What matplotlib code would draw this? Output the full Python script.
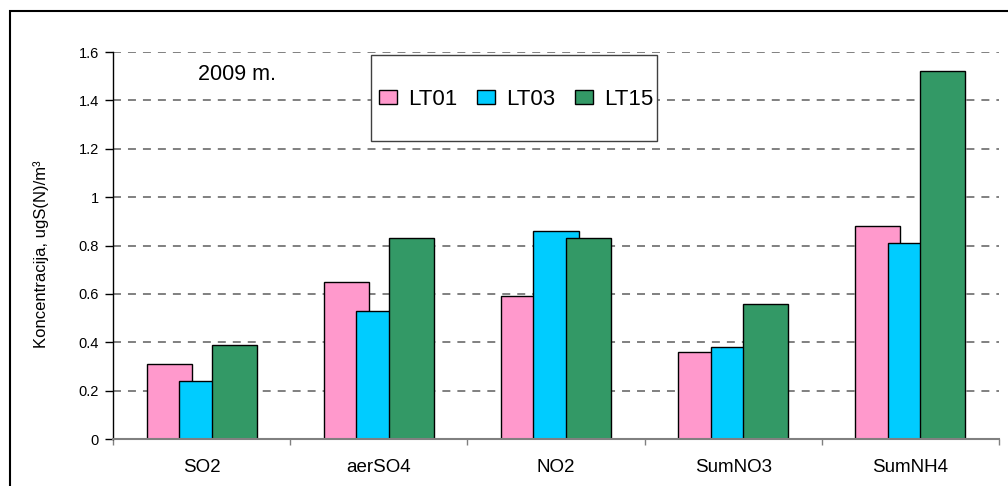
import matplotlib
matplotlib.use("Agg")
import matplotlib.pyplot as plt
import numpy as np
from matplotlib.patches import Rectangle, Patch

plt.rcParams['font.family'] = ['Liberation Sans', 'DejaVu Sans']

categories = ["SO2", "aerSO4", "NO2", "SumNO3", "SumNH4"]
series_names = ["LT01", "LT03", "LT15"]
lt01 = [0.31, 0.65, 0.59, 0.36, 0.88]
lt03 = [0.24, 0.53, 0.86, 0.38, 0.81]
lt15 = [0.39, 0.83, 0.83, 0.56, 1.52]
colors = ["#FF99CC", "#00CCFF", "#339966"]
y_ticks = [0, 0.2, 0.4, 0.6, 0.8, 1, 1.2, 1.4, 1.6]
y_tick_labels = ["0", "0.2", "0.4", "0.6", "0.8", "1", "1.2", "1.4", "1.6"]

W, H = 1008, 486
fig = plt.figure(figsize=(W / 100, H / 100), dpi=100)
fig.patch.set_facecolor("white")

ax = fig.add_axes([113 / W, 1 - 439 / H, 886 / W, (439 - 52) / H])
ax.set_xlim(-0.5, 4.5)
ax.set_ylim(0, 1.6)

x = np.arange(len(categories))
offsets = [-0.183, 0.0, 0.183]
bar_w = 0.254
for vals, off, col, name in zip([lt01, lt03, lt15], offsets, colors, series_names):
    ax.bar(x + off, vals, width=bar_w, color=col, edgecolor="black",
           linewidth=1.0, label=name, zorder=3)

# dashed horizontal gridlines
for yv in y_ticks[1:]:
    ax.axhline(yv, color="#808080", linestyle=(0, (4.1, 3.6)), linewidth=1.4, zorder=1)

# spines
for s in ["top", "right"]:
    ax.spines[s].set_visible(False)
ax.spines["left"].set_color("black")
ax.spines["left"].set_linewidth(1.0)
ax.spines["bottom"].set_color("#808080")
ax.spines["bottom"].set_linewidth(1.5)
ax.spines["bottom"].set_zorder(4)

ax.set_yticks(y_ticks)
ax.set_yticklabels(y_tick_labels, fontsize=10.5)
ax.tick_params(axis="y", direction="out", length=6, width=1, color="black", pad=4)

# category labels centred in each slot, boundary ticks between slots
ax.set_xticks(np.arange(-0.5, 5.0, 1.0))
ax.set_xticklabels([])
ax.tick_params(axis="x", direction="out", length=4, width=1, color="#808080")
ax.set_xticks(x, minor=True)
ax.set_xticklabels(categories, minor=True, fontsize=13.5)
ax.tick_params(axis="x", which="minor", length=0, pad=14.5)

fig.text(41 / W, 1 - 254 / H, "Koncentracija, ugS(N)/m³", rotation=90,
         ha="center", va="center", fontsize=12)

fig.text(198 / W, 1 - 74 / H, "2009 m.", ha="left", va="center", fontsize=15.5)

# legend box
fig.patches.append(Rectangle((371 / W, 1 - 141 / H), (657 - 371) / W, (141 - 55) / H,
                             transform=fig.transFigure, facecolor="white",
                             edgecolor="#404040", linewidth=1.0, zorder=5))
handles = [Patch(facecolor=c, edgecolor="black", linewidth=1.0) for c in colors]
leg = fig.legend(handles, series_names, loc="center",
                 bbox_to_anchor=(516 / W, 1 - 99.5 / H), ncol=3, frameon=False,
                 fontsize=16, handlelength=0.8, handleheight=0.6,
                 handletextpad=0.5, columnspacing=0.9, borderpad=0)
leg.set_zorder(6)

# outer chart border
fig.patches.append(Rectangle((10 / W, -0.1), 1.2, (H - 11) / H + 0.1,
                             transform=fig.transFigure, fill=False,
                             edgecolor="black", linewidth=1.5, zorder=0))

fig.savefig("out.png", dpi=100)
